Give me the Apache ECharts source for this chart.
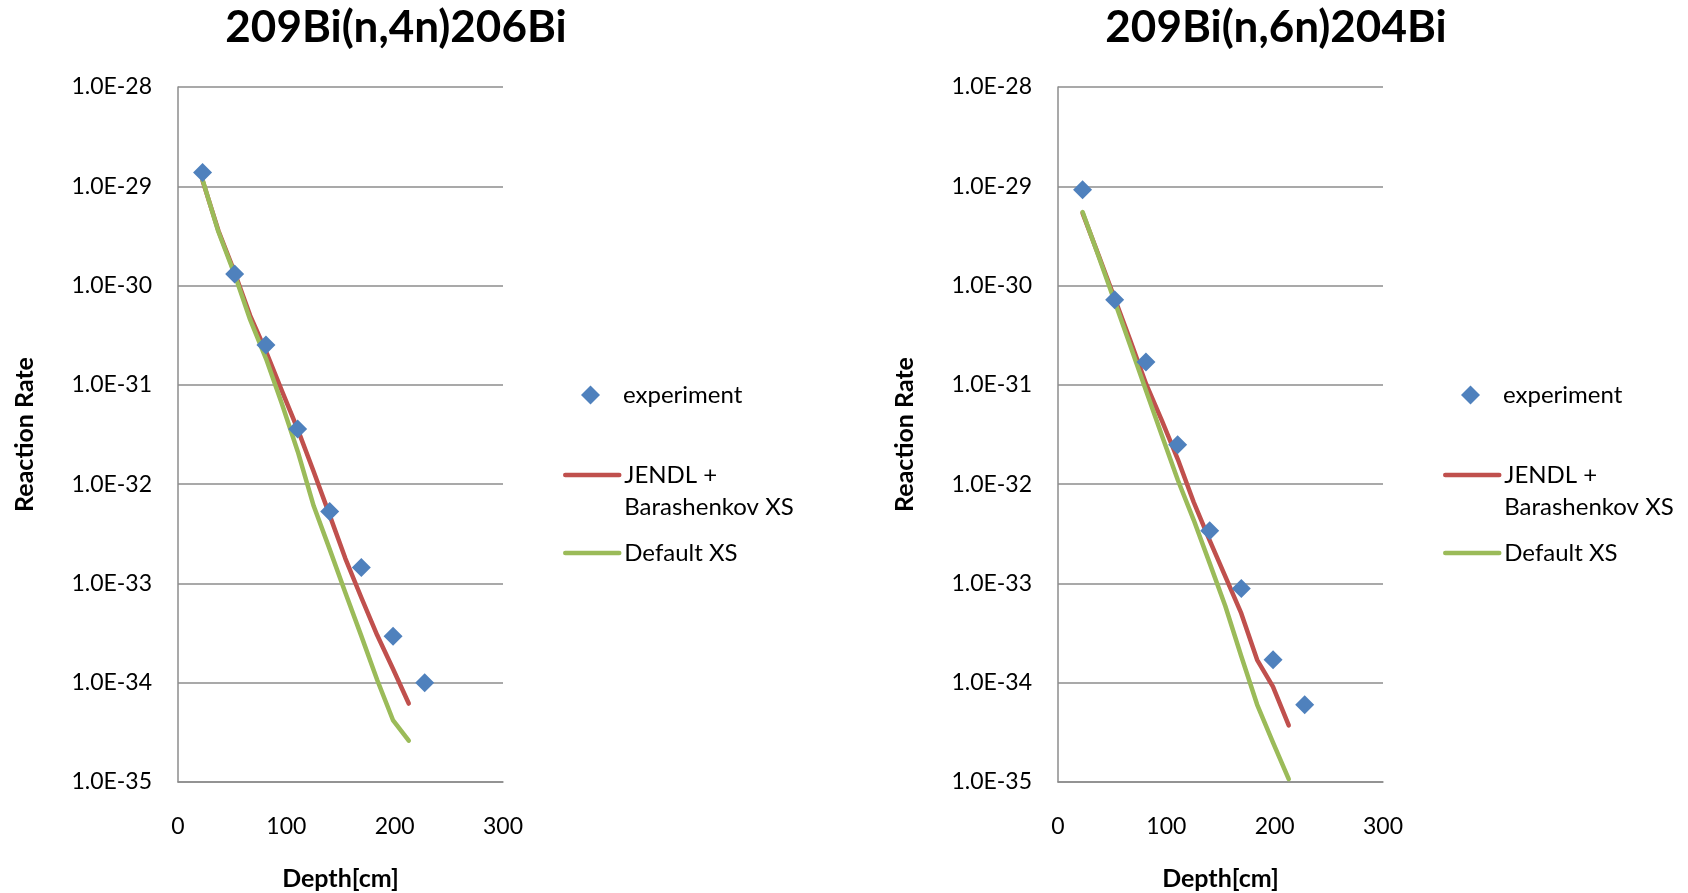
<!DOCTYPE html>
<html>
<head>
<meta charset="utf-8">
<script src="https://cdn.jsdelivr.net/npm/echarts@6/dist/echarts.min.js"></script>
<style>
html,body{margin:0;padding:0;background:#fff;}
#chart{width:1688px;height:893px;}
</style>
</head>
<body>
<div id="chart"></div>
<script>
// ---- data ----
const titles = ['209Bi(n,4n)206Bi', '209Bi(n,6n)204Bi'];
const seriesNames = ['experiment', 'JENDL +\nBarashenkov XS', 'Default XS'];
const xTicks = [0, 100, 200, 300];
const yTickExponents = [-35, -34, -33, -32, -31, -30, -29, -28];

const expDepth = [22.7, 52.3, 81.2, 110.4, 140.0, 169.2, 198.5, 227.7];
const calcDepth = [22.7, 37.3, 52.0, 66.6, 81.3, 95.9, 110.6, 125.2, 139.8, 154.5, 169.1, 183.8, 198.4, 213.0];

// 209Bi(n,4n)206Bi
const exp4n = [1.38e-29, 1.31e-30, 2.52e-31, 3.6e-32, 5.3e-33, 1.45e-33, 2.93e-34, 1.0e-34];
const jendl4n = [1.14e-29, 3.57e-30, 1.38e-30, 4.98e-31, 2.16e-31, 8.71e-32, 3.54e-32, 1.34e-32, 4.93e-33, 1.78e-33, 7.26e-34, 3.02e-34, 1.38e-34, 6.17e-35];
const default4n = [1.16e-29, 3.48e-30, 1.32e-30, 4.53e-31, 1.83e-31, 6.46e-32, 2.12e-32, 6.05e-33, 2.24e-33, 8.07e-34, 2.98e-34, 1.07e-34, 4.21e-35, 2.61e-35];

// 209Bi(n,6n)204Bi
const exp6n = [9.25e-30, 7.2e-31, 1.70e-31, 2.5e-32, 3.4e-33, 8.9e-34, 1.7e-34, 6.0e-35];
const jendl6n = [5.37e-30, 2.04e-30, 7.59e-31, 2.82e-31, 1.02e-31, 4.37e-32, 1.78e-32, 6.61e-33, 2.75e-33, 1.17e-33, 5.01e-34, 1.70e-34, 9.12e-35, 3.72e-35];
const default6n = [5.50e-30, 2.00e-30, 7.08e-31, 2.51e-31, 8.71e-32, 3.09e-32, 1.10e-32, 4.37e-33, 1.62e-33, 5.89e-34, 1.86e-34, 6.03e-35, 2.51e-35, 1.07e-35];

const panels = [
  {exp: exp4n, jendl: jendl4n, def: default4n},
  {exp: exp6n, jendl: jendl6n, def: default6n}
];

// ---- styles ----
const FONT = 'Lato';
const BLUE = '#4F81BD', RED = '#C0504D', GREEN = '#9BBB59', GRID = '#8c8c8c';
const OFFSET = 880;

// the y axis is a decade (log10) axis: values are passed through log10
function zipLog(xs, ys){ return xs.map((x,i)=>[x, Math.log10(ys[i])]); }

const option = {
  backgroundColor: '#ffffff',
  animation: false,
  title: [], grid: [], xAxis: [], yAxis: [], series: [], legend: []
};

panels.forEach((p, k) => {
  const dx = k * OFFSET;
  option.title.push({
    text: titles[k], left: 391 + dx, top: -3, textAlign: 'center',
    textStyle: {fontFamily: FONT, fontWeight: 'bold', fontSize: 44, color: '#000', lineHeight: 52}
  });
  option.grid.push({left: 178 + dx, top: 87, width: 325, height: 695, containLabel: false, outerBoundsMode: 'none'});
  option.xAxis.push({
    type: 'value', gridIndex: k, min: xTicks[0], max: xTicks[xTicks.length-1], interval: 100,
    name: 'Depth[cm]', nameLocation: 'middle', nameGap: 84,
    nameTextStyle: {fontFamily: FONT, fontWeight: 'bold', fontSize: 25, color: '#000'},
    axisLine: {show: true, lineStyle: {color: GRID, width: 1.5}},
    axisTick: {show: false}, splitLine: {show: false},
    axisLabel: {margin: 33, fontFamily: FONT, fontSize: 23, color: '#000'}
  });
  option.yAxis.push({
    type: 'value', gridIndex: k,
    min: yTickExponents[0], max: yTickExponents[yTickExponents.length-1], interval: 1,
    name: 'Reaction Rate', nameLocation: 'middle', nameGap: 141, nameRotate: 90,
    nameTextStyle: {fontFamily: FONT, fontWeight: 'bold', fontSize: 25, color: '#000'},
    axisLine: {show: true, lineStyle: {color: GRID, width: 1.5}},
    axisTick: {show: false},
    splitLine: {show: true, lineStyle: {color: GRID, width: 1.5}},
    axisLabel: {margin: 26, fontFamily: FONT, fontSize: 23, color: '#000',
      formatter: v => '1.0E' + Math.round(v)}
  });
  option.series.push({
    name: seriesNames[1], type: 'line', xAxisIndex: k, yAxisIndex: k,
    data: zipLog(calcDepth, p.jendl), symbol: 'none', z: 2,
    lineStyle: {color: RED, width: 4.5, cap: 'round', join: 'round'}, itemStyle: {color: RED}
  });
  option.series.push({
    name: seriesNames[2], type: 'line', xAxisIndex: k, yAxisIndex: k,
    data: zipLog(calcDepth, p.def), symbol: 'none', z: 3,
    lineStyle: {color: GREEN, width: 4.5, cap: 'round', join: 'round'}, itemStyle: {color: GREEN}
  });
  option.series.push({
    name: seriesNames[0], type: 'scatter', xAxisIndex: k, yAxisIndex: k,
    data: zipLog(expDepth, p.exp), symbol: 'diamond', symbolSize: 19, z: 4,
    itemStyle: {color: BLUE, opacity: 1}
  });
  const legText = {fontFamily: FONT, fontSize: 24, color: '#000', lineHeight: 32};
  option.legend.push({
    data: [{name: seriesNames[0], icon: 'diamond'}], left: 581 + dx, top: 379, padding: 0, orient: 'vertical',
    itemWidth: 19, itemHeight: 19, selectedMode: false,
    textStyle: Object.assign({}, legText, {padding: [0, 0, 0, 18]}),
    itemStyle: {color: BLUE}
  });
  option.legend.push({
    data: [seriesNames[1]], left: 563 + dx, top: 427, padding: 0, orient: 'vertical',
    itemWidth: 54, itemHeight: 18, selectedMode: false, textStyle: legText,
    formatter: n => ' \n' + n,
    itemStyle: {opacity: 0}, lineStyle: {width: 4.5, color: RED, cap: 'round'}
  });
  option.legend.push({
    data: [seriesNames[2]], left: 563 + dx, top: 537, padding: 0, orient: 'vertical',
    itemWidth: 54, itemHeight: 18, selectedMode: false, textStyle: legText,
    itemStyle: {opacity: 0}, lineStyle: {width: 4.5, color: GREEN, cap: 'round'}
  });
});

const chart = echarts.init(document.getElementById('chart'), null, {renderer: 'canvas'});
chart.setOption(option);
</script>
</body>
</html>
